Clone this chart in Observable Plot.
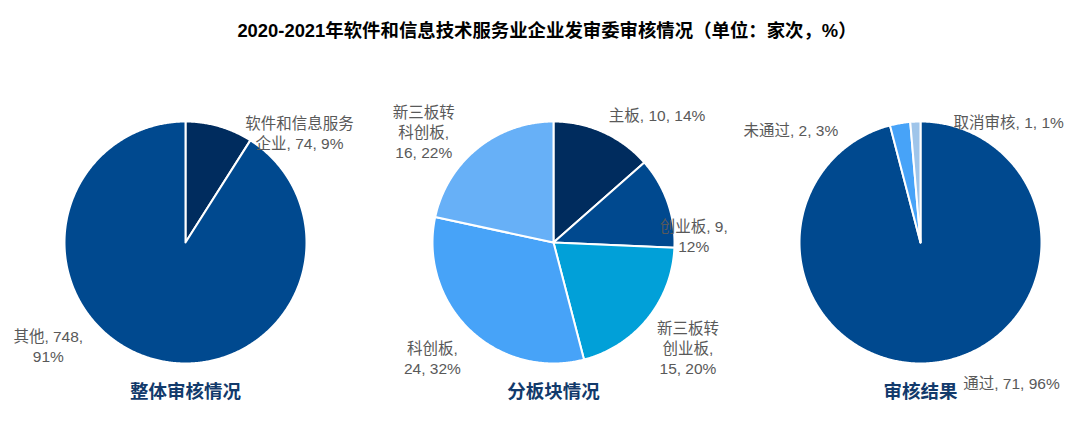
<!DOCTYPE html>
<html>
<head>
<meta charset="utf-8">
<script src="https://cdn.jsdelivr.net/npm/d3@7"></script>
<script src="https://cdn.jsdelivr.net/npm/@observablehq/plot@0.6"></script>
<style>
  html, body { margin: 0; padding: 0; background: #fff; }
  #title {
    height: 56px; line-height: 62px; text-align: center; padding-left: 14px;
    font-family: "Liberation Sans", "Noto Sans CJK SC", sans-serif;
    font-weight: bold; font-size: 18.4px; color: #000;
  }
</style>
</head>
<body>
<div id="title">2020-2021年软件和信息技术服务业企业发审委审核情况（单位：家次，%）</div>
<div id="chart"></div>
<script>
// ---- data ----
const pieTitles = ["整体审核情况", "分板块情况", "审核结果"];

const overallNames  = ["软件和信息服务\n企业", "其他"];
const overallValues = [74, 748];

const boardNames  = ["主板", "创业板", "新三板转\n创业板", "科创板", "新三板转\n科创板"];
const boardValues = [10, 9, 15, 24, 16];

const resultNames  = ["通过", "未通过", "取消审核"];
const resultValues = [71, 2, 1];

// ---- styles ----
const overallColors = ["#002c5e", "#00498f"];
const boardColors   = ["#002c5e", "#00498f", "#01a0d8", "#47a3f8", "#67b0f7"];
const resultColors  = ["#00498f", "#47a3f8", "#9fc5ea"];

// ---- layout (label placement: angle in degrees clockwise from top, distance in radii, line break mode) ----
const overallLabelPos = [[46, 1.31, "none"], [233, 1.42, "afterValue"]];
const boardLabelPos   = [[39, 1.36, "none"], [87, 1.16, "afterValue"], [128, 1.41, "afterName"], [226.5, 1.38, "afterName"], [310.5, 1.41, "afterName"]];
const resultLabelPos  = [[147, 1.38, "none"], [311, 1.42, "none"], [36, 1.24, "none"]];

const W = 1080, TOP = 56, H = 426 - TOP;
const centersX = [185, 553, 920], centerY = 242, R = 121;

const pies = [
  {names: overallNames, values: overallValues, colors: overallColors, labels: overallLabelPos},
  {names: boardNames, values: boardValues, colors: boardColors, labels: boardLabelPos},
  {names: resultNames, values: resultValues, colors: resultColors, labels: resultLabelPos}
];

const polys = [], labelRows = [], titleRows = [];
const colorDomain = [], colorRange = [];
pies.forEach((p, i) => {
  const cx = centersX[i], cy = centerY;
  const total = d3.sum(p.values);
  let acc = 0;
  p.values.forEach((v, j) => {
    const key = p.names[j];
    colorDomain.push(key); colorRange.push(p.colors[j]);
    const a0 = acc / total * 2 * Math.PI;
    acc += v;
    const a1 = acc / total * 2 * Math.PI;
    const n = Math.max(2, Math.ceil((a1 - a0) / (Math.PI / 360)));
    polys.push({key, cat: key, x: cx, y: cy});
    for (let k = 0; k <= n; k++) {
      const a = a0 + (a1 - a0) * k / n;
      polys.push({key, cat: key, x: cx + R * Math.sin(a), y: cy - R * Math.cos(a)});
    }
    polys.push({key, cat: key, x: cx, y: cy});
    const pct = Math.round(v / total * 100) + "%";
    const [ang, dist, mode] = p.labels[j];
    let text;
    if (mode === "afterName") text = `${key},\n${v}, ${pct}`;
    else if (mode === "afterValue") text = `${key}, ${v},\n${pct}`;
    else text = `${key}, ${v}, ${pct}`;
    const ar = ang * Math.PI / 180;
    labelRows.push({x: cx + dist * R * Math.sin(ar), y: cy - dist * R * Math.cos(ar), text});
  });
  titleRows.push({x: cx, y: cy + 150, text: pieTitles[i]});
});

const chart = Plot.plot({
  width: W, height: H, margin: 0,
  style: {fontFamily: "'Liberation Sans', 'Noto Sans CJK SC', sans-serif", background: "#fff"},
  x: {domain: [0, W], range: [0, W], axis: null},
  y: {domain: [TOP, TOP + H], range: [0, H], axis: null},
  color: {domain: colorDomain, range: colorRange},
  marks: [
    Plot.line(polys, {x: "x", y: "y", z: "key", fill: "cat", stroke: "white", strokeWidth: 2, strokeLinejoin: "round"}),
    Plot.text(labelRows, {x: "x", y: "y", text: "text", fill: "#595959", fontSize: 15.5, lineHeight: 1.29, textAnchor: "middle", lineAnchor: "middle"}),
    Plot.text(titleRows, {x: "x", y: "y", text: "text", fill: "#123a6b", fontSize: 18.5, fontWeight: "bold", textAnchor: "middle", lineAnchor: "middle"})
  ]
});
document.getElementById("chart").appendChild(chart);
</script>
</body>
</html>
